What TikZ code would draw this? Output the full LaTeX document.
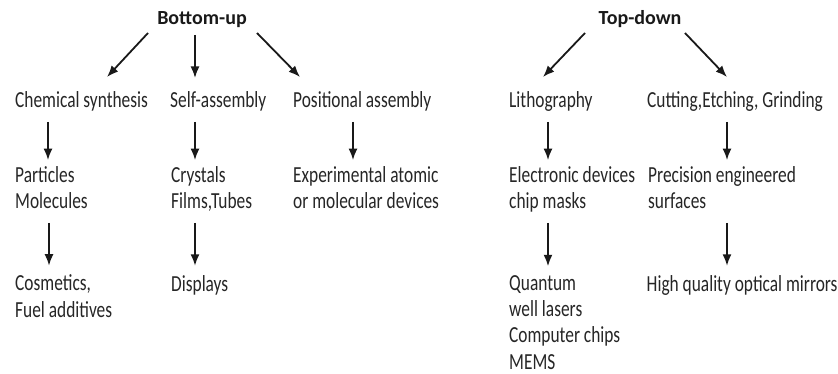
\documentclass[tikz,border=0pt]{standalone}
\usepackage{fontspec}
\setmainfont{Carlito}
\newfontfamily\narrowfont{Carlito}[FakeStretch=0.755]
\usetikzlibrary{arrows.meta,positioning}

\tikzset{
  lbl/.style={anchor=base west, inner sep=0pt, align=left, text=black!85,
    font=\narrowfont\fontsize{23}{26.2}\selectfont},
  head/.style={anchor=base, inner sep=0pt, text=black!90,
    font=\fontsize{20}{26}\selectfont\bfseries},
  arr/.style={-{Latex[length=11.5pt,width=9pt]}, line width=1.8pt, black!90}
}

\begin{document}
\begin{tikzpicture}[x=1pt, y=-1pt]
    \useasboundingbox (0,0) rectangle (838,374);

    % Headings
    \node[head] (bu) at (202,24.5) {Bottom-up};
    \node[head] (td) at (640,24.5) {Top-down};

    % First level
    \node[lbl] (chem) at (15,108) {Chemical synthesis};
    \node[lbl] (self) at (170,108) {Self-assembly};
    \node[lbl] (pos) at (293,108) {Positional assembly};
    \node[lbl] (litho) at (509,108) {Lithography};
    \node[lbl] (cut) at (647,108) {Cutting,Etching, Grinding};

    % Second level (placed at the last line)
    \node[lbl] (part) at (15,208.5) {Particles\\Molecules};
    \node[lbl] (cryst) at (171,208.5) {Crystals\\Films,Tubes};
    \node[lbl] (expt) at (293,208.5) {Experimental atomic\\or molecular devices};
    \node[lbl] (elec) at (509,208.5) {Electronic devices\\chip masks};
    \node[lbl] (prec) at (648,208.5) {Precision engineered\\surfaces};

    % Third level
    \node[lbl] (cosm) at (15,317) {Cosmetics,\\Fuel additives};
    \node[lbl] (disp) at (171,291) {Displays};
    \node[lbl] (quant) at (509,369) {Quantum\\well lasers\\Computer chips\\MEMS};
    \node[lbl] (mirr) at (646.5,291) {High quality optical mirrors};

    % Bottom-up arrows
    \draw[arr] ([shift={(-54,8.5)}]bu.base) -- ([shift={(92,-31)}]chem.base west);
    \draw[arr] ([shift={(-7,10.5)}]bu.base) -- ([shift={(25,-30)}]self.base west);
    \draw[arr] ([shift={(55,8.5)}]bu.base) -- ([shift={(7,-31)}]pos.base west);

    % Top-down arrows
    \draw[arr] ([shift={(-55,8.5)}]td.base) -- ([shift={(34,-31)}]litho.base west);
    \draw[arr] ([shift={(45,8.5)}]td.base) -- ([shift={(80,-31)}]cut.base west);

    % Down the columns
    \draw[arr] ([shift={(33,14)}]chem.base west) -- ([shift={(33,-6)}]part.north west);
    \draw[arr] ([shift={(25,14)}]self.base west) -- ([shift={(24,-6)}]cryst.north west);
    \draw[arr] ([shift={(60,14)}]pos.base west) -- ([shift={(60,-6)}]expt.north west);
    \draw[arr] ([shift={(39,14)}]litho.base west) -- ([shift={(39,-6)}]elec.north west);
    \draw[arr] ([shift={(80,14)}]cut.base west) -- ([shift={(79,-6)}]prec.north west);

    \draw[arr] ([shift={(34,14.5)}]part.base west) -- ([shift={(34,-9)}]cosm.north west);
    \draw[arr] ([shift={(24,14.5)}]cryst.base west) -- ([shift={(24,-9)}]disp.north west);
    \draw[arr] ([shift={(39,14.5)}]elec.base west) -- ([shift={(39,-9)}]quant.north west);
    \draw[arr] ([shift={(79,14.5)}]prec.base west) -- ([shift={(80.5,-9)}]mirr.north west);
\end{tikzpicture}
\end{document}
